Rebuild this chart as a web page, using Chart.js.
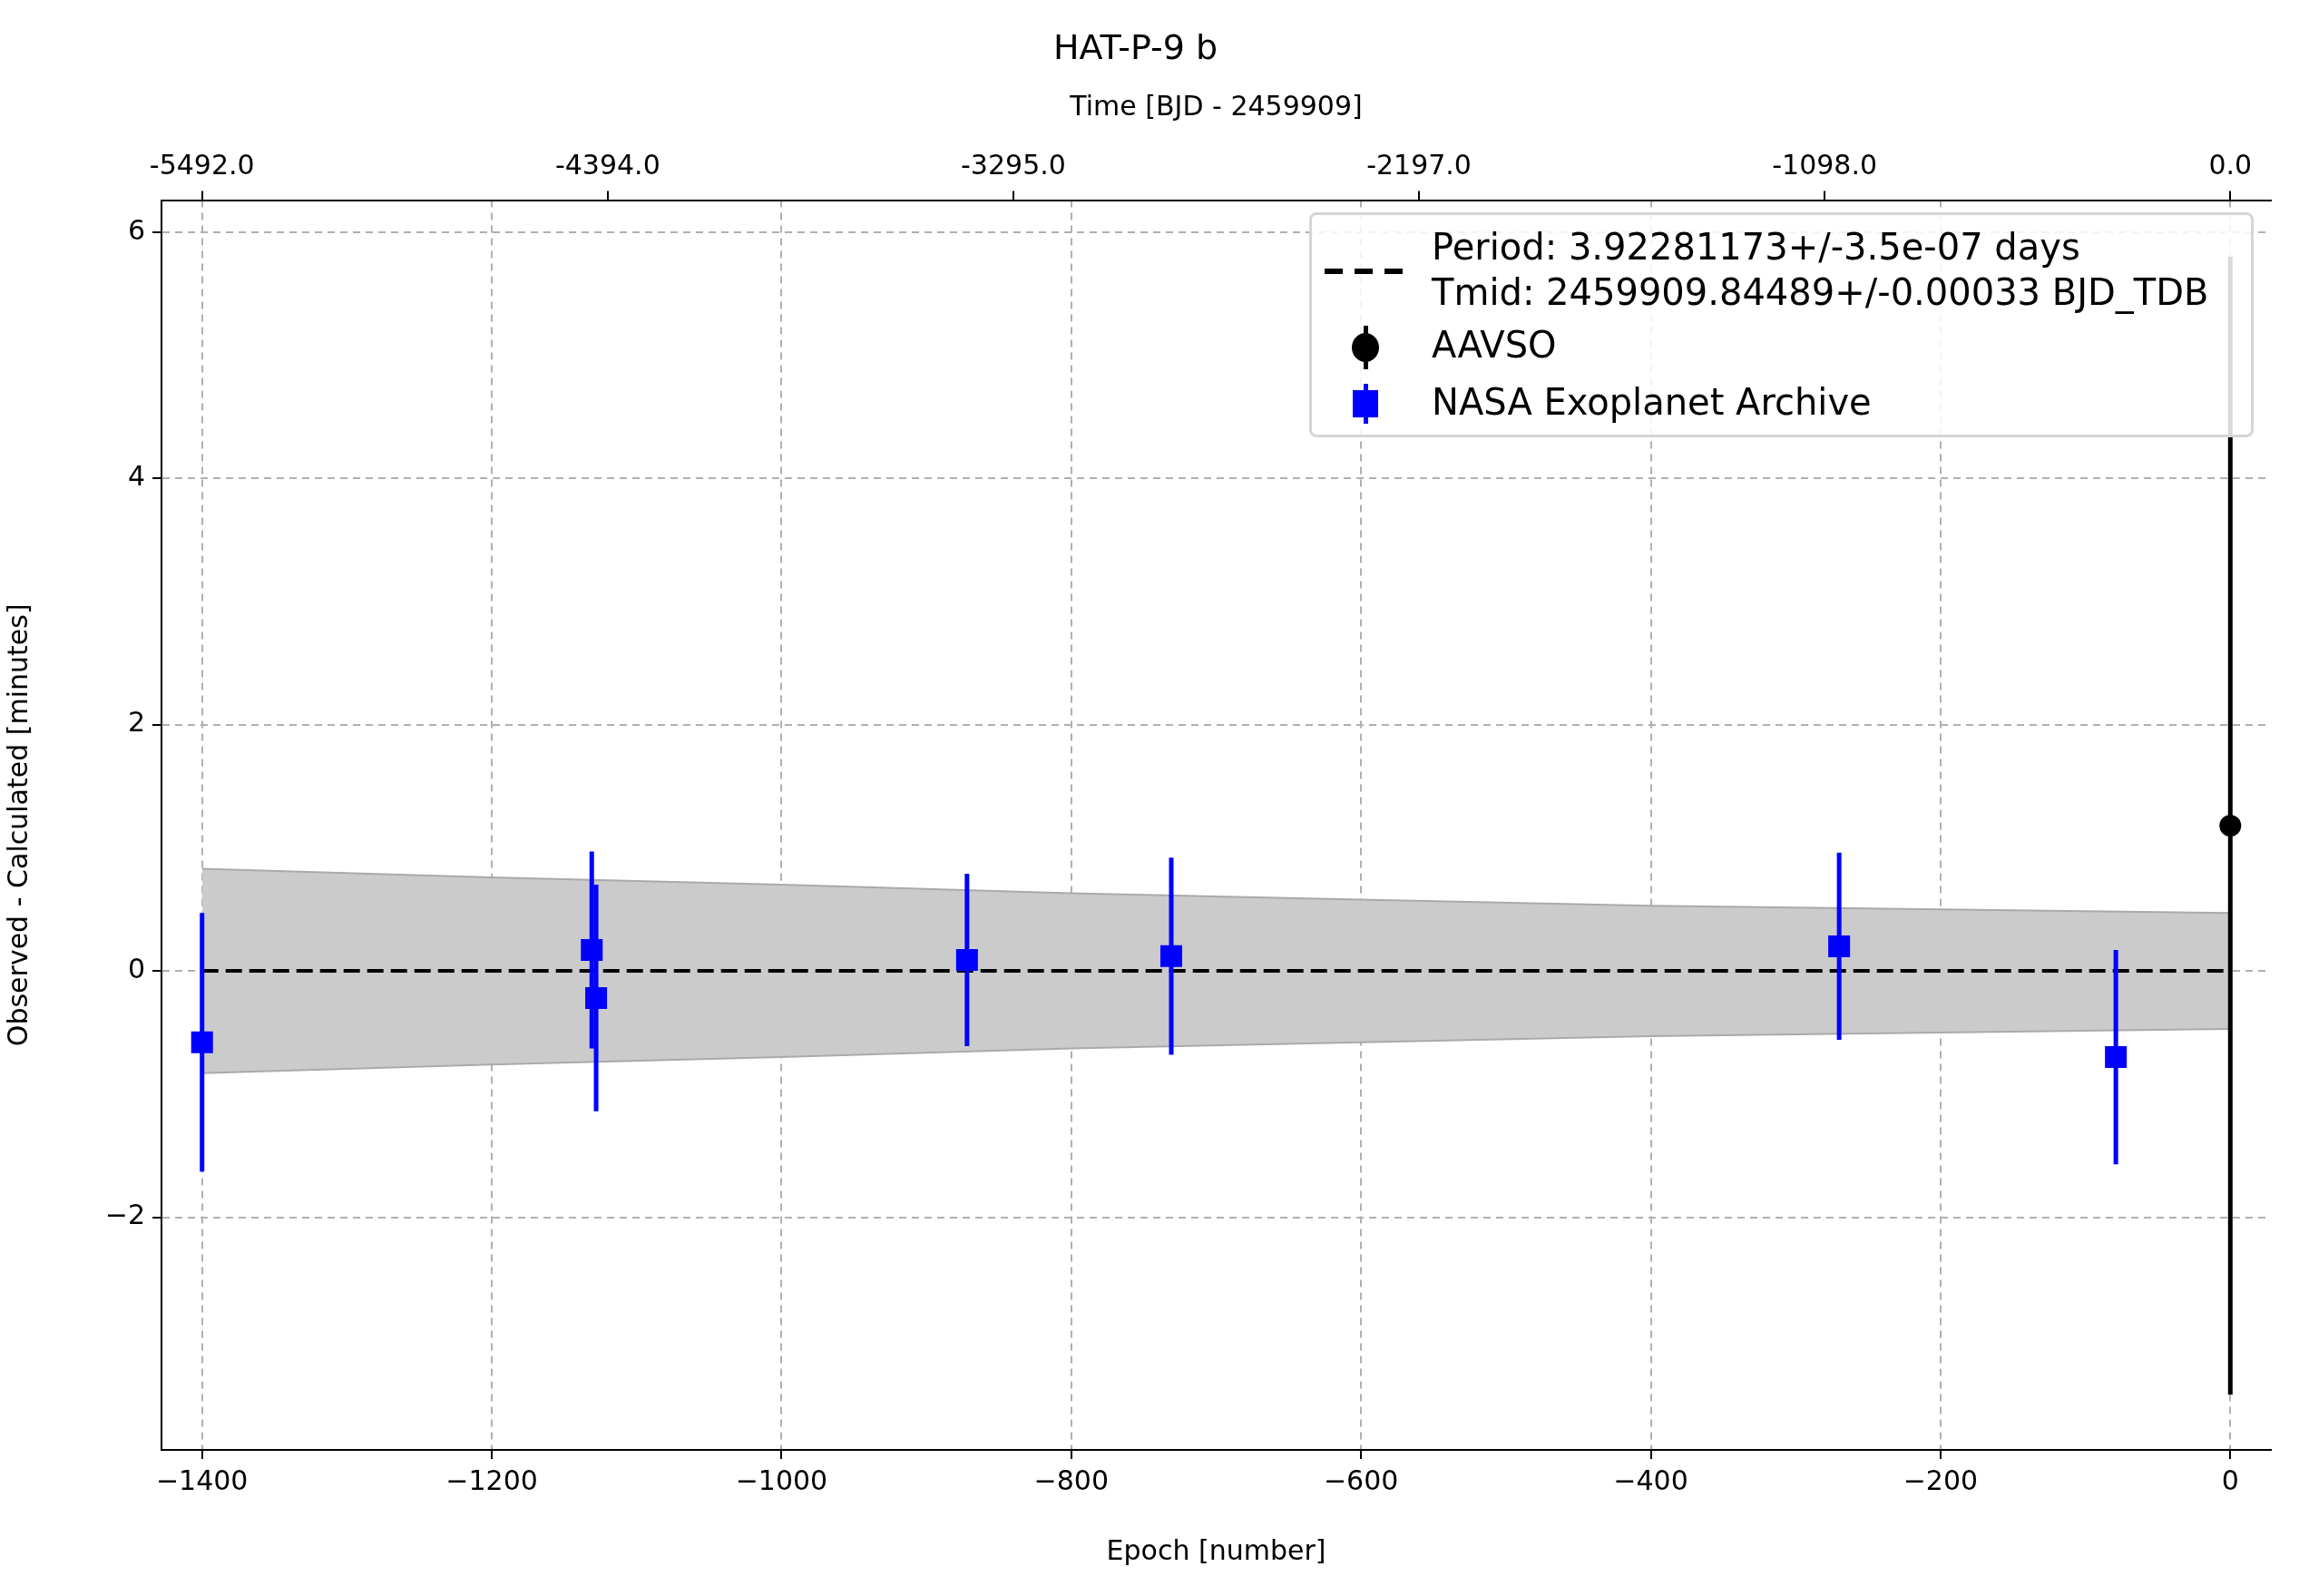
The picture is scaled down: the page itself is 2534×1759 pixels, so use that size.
<!DOCTYPE html>
<html><head><meta charset="utf-8">
<script src="https://cdn.jsdelivr.net/npm/chart.js@4"></script>
<style>
body{margin:0;background:#fff;font-family:"DejaVu Sans",sans-serif}
#wrap{position:relative;width:2534px;height:1759px}
#leg{position:absolute;left:1443px;top:234px;width:1041px;height:248px;border:3px solid #d5d5d5;border-radius:8px;background:rgba(255,255,255,0.85);font-size:40px;color:#000;box-sizing:border-box}
.t{position:absolute;left:132px;white-space:nowrap}
</style></head><body>
<div id="wrap"><canvas id="c" width="2534" height="1759"></canvas>
<div id="leg">
 <div style="position:absolute;left:14px;top:59px;width:86px;height:6px;background:repeating-linear-gradient(90deg,#000 0 20px,transparent 20px 33px)"></div>
 <div class="t" style="top:10px;line-height:50px">Period: 3.92281173+/-3.5e-07 days<br>Tmid: 2459909.84489+/-0.00033 BJD_TDB</div>
 <div style="position:absolute;left:44px;top:130px;width:30px;height:32px;border-radius:50%;background:#000"></div><div style="position:absolute;left:57px;top:122px;width:5px;height:48px;background:#000"></div>
 <div class="t" style="top:120px">AAVSO</div>
 <div style="position:absolute;left:45px;top:193px;width:28px;height:30px;background:#00f"></div><div style="position:absolute;left:57px;top:186px;width:5px;height:44px;background:#00f"></div>
 <div class="t" style="top:183px">NASA Exoplanet Archive</div>
</div></div>
<script>
const nasaEpoch=[-1400,-1131,-1128,-872,-731,-270,-79];
const nasaOC=[-0.58,0.17,-0.22,0.09,0.12,0.20,-0.70];
const nasaErr=[1.05,0.80,0.92,0.70,0.80,0.76,0.87];
const aavsoEpoch=[0];
const aavsoOC=[1.18];
const aavsoErr=[4.62];
const bandEpoch=[-1400,-1200,-1000,-800,-600,-400,-200,0];
const bandHalf=[0.83,0.76,0.70,0.63,0.58,0.53,0.50,0.47];
const topTickEpochs=[-1400,-1120,-840,-560,-280,0];
const topTickLabels=["-5492.0","-4394.0","-3295.0","-2197.0","-1098.0","0.0"];

const F="'DejaVu Sans'";
const errPlugin={id:'err',afterDatasetsDraw(ch){
 const x=ch.scales.x,y=ch.scales.y,c=ch.ctx;c.save();c.lineWidth=5;
 const draw=(ex,ey,ee,col)=>{c.strokeStyle=col;ex.forEach((e,i)=>{const px=x.getPixelForValue(e);c.beginPath();c.moveTo(px,y.getPixelForValue(ey[i]-ee[i]));c.lineTo(px,y.getPixelForValue(ey[i]+ee[i]));c.stroke();});};
 draw(nasaEpoch,nasaOC,nasaErr,'#0000ff');draw(aavsoEpoch,aavsoOC,aavsoErr,'#000');
 c.restore();}};
const fit=(w,h)=>function(s){if(w!=null)s.width=w;if(h!=null)s.height=h;};
new Chart(document.getElementById('c'),{
 data:{datasets:[
  {type:'line',data:bandEpoch.map((e,i)=>({x:e,y:bandHalf[i]})),borderColor:'#aaa',borderWidth:2,pointRadius:0,fill:false,order:5},
  {type:'line',data:bandEpoch.map((e,i)=>({x:e,y:-bandHalf[i]})),borderColor:'#aaa',borderWidth:2,pointRadius:0,fill:'-1',backgroundColor:'#cbcbcb',order:5},
  {type:'line',data:[{x:-1400,y:0},{x:0,y:0}],borderColor:'#000',borderWidth:4,borderDash:[18,8],pointRadius:0,order:4},
  {type:'scatter',data:nasaEpoch.map((e,i)=>({x:e,y:nasaOC[i]})),pointStyle:'rect',pointRadius:17,backgroundColor:'#0000ff',borderWidth:0,order:1},
  {type:'scatter',data:aavsoEpoch.map((e,i)=>({x:e,y:aavsoOC[i]})),pointStyle:'circle',pointRadius:12,backgroundColor:'#000',borderWidth:0,order:1}
 ]},
 plugins:[errPlugin],
 options:{responsive:false,animation:false,devicePixelRatio:1,
  layout:{padding:{left:0,right:31,top:0,bottom:0}},
  plugins:{legend:{display:false},tooltip:{enabled:false},
   title:{display:true,text:'HAT-P-9 b',font:{family:F,size:38,weight:'normal'},color:'#000',padding:{top:32,bottom:4}}},
  scales:{
   x:{type:'linear',position:'bottom',min:-1428,max:28,afterFit:fit(null,161),
    afterBuildTicks:a=>{a.ticks=[-1400,-1200,-1000,-800,-600,-400,-200,0].map(v=>({value:v}));},
    ticks:{font:{family:F,size:30},color:'#000',callback:v=>String(v).replace('-','\u2212'),maxRotation:0,padding:8},
    title:{display:true,text:'Epoch [number]',font:{family:F,size:30},color:'#000',padding:{top:4,bottom:30}},
    grid:{color:'#b0b0b0',lineWidth:2,tickLength:10,tickColor:'#000'},
    border:{color:'#000',width:2,dash:[8,6]}},
   x2:{type:'linear',position:'top',min:-1428,max:28,afterFit:fit(null,139),
    afterBuildTicks:a=>{a.ticks=topTickEpochs.map(v=>({value:v}));},
    ticks:{font:{family:F,size:30},color:'#000',callback:v=>topTickLabels[topTickEpochs.indexOf(v)],maxRotation:0,padding:8},
    title:{display:true,text:'Time [BJD - 2459909]',font:{family:F,size:30},color:'#000',padding:{top:20,bottom:0}},
    grid:{drawOnChartArea:false,tickLength:10,tickColor:'#000',lineWidth:2},
    border:{color:'#000',width:2}},
   y:{min:-3.89,max:6.26,afterFit:fit(178,null),
    afterBuildTicks:a=>{a.ticks=[-2,0,2,4,6].map(v=>({value:v}));},
    ticks:{font:{family:F,size:30},color:'#000',callback:v=>String(v).replace('-','\u2212'),padding:8},
    title:{display:true,text:'Observed - Calculated [minutes]',font:{family:F,size:30},color:'#000'},
    grid:{color:'#b0b0b0',lineWidth:2,tickLength:10,tickColor:'#000'},
    border:{color:'#000',width:2,dash:[8,6]}}
  }}
});
</script></body></html>
